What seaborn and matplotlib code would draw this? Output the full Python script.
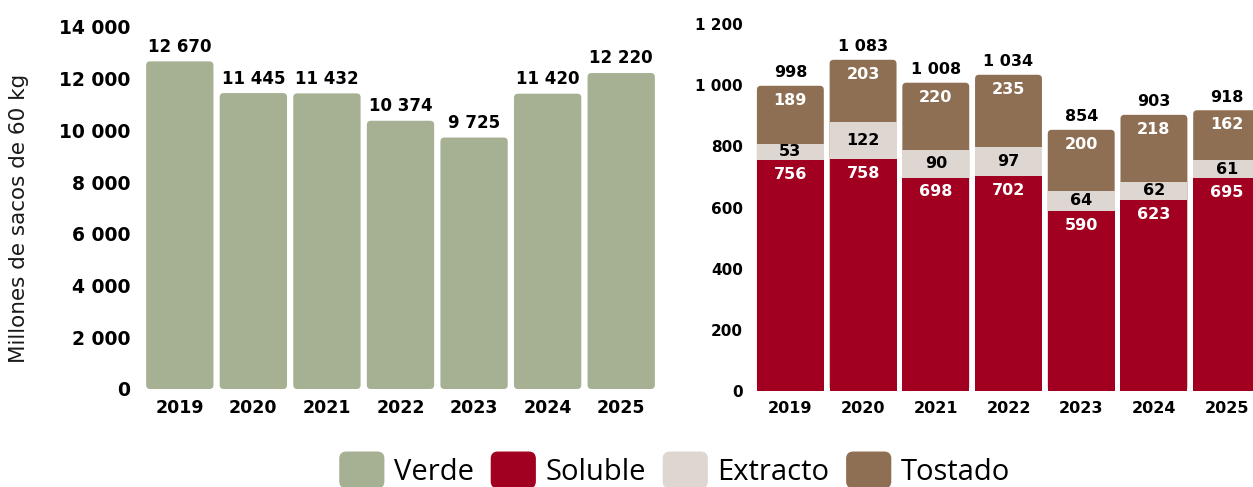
import matplotlib
matplotlib.use("Agg")
import matplotlib.pyplot as plt
import seaborn as sns
import numpy as np
from matplotlib.patches import FancyBboxPatch, Patch
from matplotlib.legend_handler import HandlerPatch

years = ["2019", "2020", "2021", "2022", "2023", "2024", "2025"]
verde = [12670, 11445, 11432, 10374, 9725, 11420, 12220]
soluble = [756, 758, 698, 702, 590, 623, 695]
extracto = [53, 122, 90, 97, 64, 62, 61]
tostado = [189, 203, 220, 235, 200, 218, 162]

left_ticks = [0, 2000, 4000, 6000, 8000, 10000, 12000, 14000]
right_ticks = [0, 200, 400, 600, 800, 1000, 1200]

C_VERDE = "#a6b092"
C_SOLUBLE = "#a10020"
C_EXTRACTO = "#ded6d0"
C_TOSTADO = "#8f6f53"


def fmt(v):
    return "{:,}".format(v).replace(",", " ")


def round_bars(ax, patches, radius_px):
    bbox = ax.get_window_extent()
    x0, x1 = ax.get_xlim()
    y0, y1 = ax.get_ylim()
    px_x = bbox.width / (x1 - x0)
    px_y = bbox.height / (y1 - y0)
    for p in patches:
        rb = FancyBboxPatch((p.get_x(), p.get_y()), p.get_width(), p.get_height(),
                            boxstyle="round,pad=0,rounding_size={}".format(radius_px / px_x),
                            mutation_aspect=px_x / px_y, fc=p.get_facecolor(), ec="none",
                            zorder=p.get_zorder() - 0.5)
        p.remove()
        ax.add_patch(rb)


def legend_box(legend, orig_handle, xdescent, ydescent, width, height, fontsize):
    return FancyBboxPatch((-xdescent, -ydescent), width, height,
                          boxstyle="round,pad=0,rounding_size={}".format(height * 0.18))


def style_axis(ax, ticks, tick_size, year_size, ypad, xpad):
    sns.despine(ax=ax, left=True, bottom=True)
    ax.set_yticks(ticks)
    ax.set_yticklabels([fmt(t) for t in ticks], fontsize=tick_size, fontweight="bold", color="black")
    ax.tick_params(axis="y", length=0, pad=ypad)
    ax.tick_params(axis="x", length=0, pad=xpad, labelsize=year_size, labelcolor="black")
    for lab in ax.get_xticklabels():
        lab.set_fontweight("bold")
    ax.set_xlabel("")
    ax.grid(False)


sns.set_theme(style="white")
plt.rcParams["font.family"] = ["DejaVu Sans"]

fig = plt.figure(figsize=(12.53, 4.87), dpi=100)
ax1 = fig.add_axes([143 / 1253, 1 - 389 / 487, 515 / 1253, 362 / 487])
ax2 = fig.add_axes([754 / 1253, 1 - 391 / 487, 509 / 1253, 367 / 487])

# left: green coffee
sns.barplot(x=years, y=verde, color=C_VERDE, saturation=1, width=0.915, linewidth=0, ax=ax1)
ax1.set_xlim(-0.5, 6.5)
ax1.set_ylim(0, 14000)
style_axis(ax1, left_ticks, 13.5, 12.5, 9, 7)
ax1.set_ylabel("Millones de sacos de 60 kg", fontsize=15.5, color="#1a1a1a")
ax1.yaxis.set_label_coords(-0.222, 0.47)
round_bars(ax1, list(ax1.patches), 4)
for i, v in enumerate(verde):
    ax1.annotate(fmt(v), (i, v), xytext=(0, 4), textcoords="offset points",
                 ha="center", va="bottom", fontsize=12, fontweight="bold", color="black")

# right: processed coffee, stacked
tot = [s + e + t for s, e, t in zip(soluble, extracto, tostado)]
mid = [s + e for s, e in zip(soluble, extracto)]
sns.barplot(x=years, y=tot, color=C_TOSTADO, saturation=1, width=0.92, linewidth=0, ax=ax2)
n_top = len(ax2.patches)
sns.barplot(x=years, y=mid, color=C_EXTRACTO, saturation=1, width=0.92, linewidth=0, ax=ax2)
sns.barplot(x=years, y=soluble, color=C_SOLUBLE, saturation=1, width=0.92, linewidth=0, ax=ax2)
ax2.set_xlim(-0.5, 6.5)
ax2.set_ylim(0, 1200)
style_axis(ax2, right_ticks, 11, 11.5, 8, 7)
ax2.set_ylabel("")
round_bars(ax2, list(ax2.patches)[:n_top], 4)

for i in range(len(years)):
    ax2.annotate(fmt(tot[i]), (i, tot[i]), xytext=(0, 4), textcoords="offset points",
                 ha="center", va="bottom", fontsize=11.5, fontweight="bold", color="black")
    ax2.annotate(fmt(tostado[i]), (i, tot[i]), xytext=(0, -5), textcoords="offset points",
                 ha="center", va="top", fontsize=11.5, fontweight="bold", color="white")
    ax2.annotate(fmt(extracto[i]), (i, soluble[i] + extracto[i] / 2), ha="center", va="center",
                 fontsize=11.5, fontweight="bold", color="black")
    ax2.annotate(fmt(soluble[i]), (i, soluble[i]), xytext=(0, -5), textcoords="offset points",
                 ha="center", va="top", fontsize=11.5, fontweight="bold", color="white")

handles = [Patch(color=C_VERDE), Patch(color=C_SOLUBLE), Patch(color=C_EXTRACTO), Patch(color=C_TOSTADO)]
labels = ["Verde", "Soluble", "Extracto", "Tostado"]
leg = fig.legend(handles, labels, loc="center", bbox_to_anchor=(675 / 1253, 1 - 470 / 487), ncol=4,
                 frameon=False, prop={"family": "Open Sans", "size": 21},
                 handlelength=1.5, handleheight=1.5, handletextpad=0.35, columnspacing=0.6,
                 handler_map={Patch: HandlerPatch(patch_func=legend_box)})
for t in leg.get_texts():
    t.set_color("black")

fig.savefig("out.png", dpi=100)
